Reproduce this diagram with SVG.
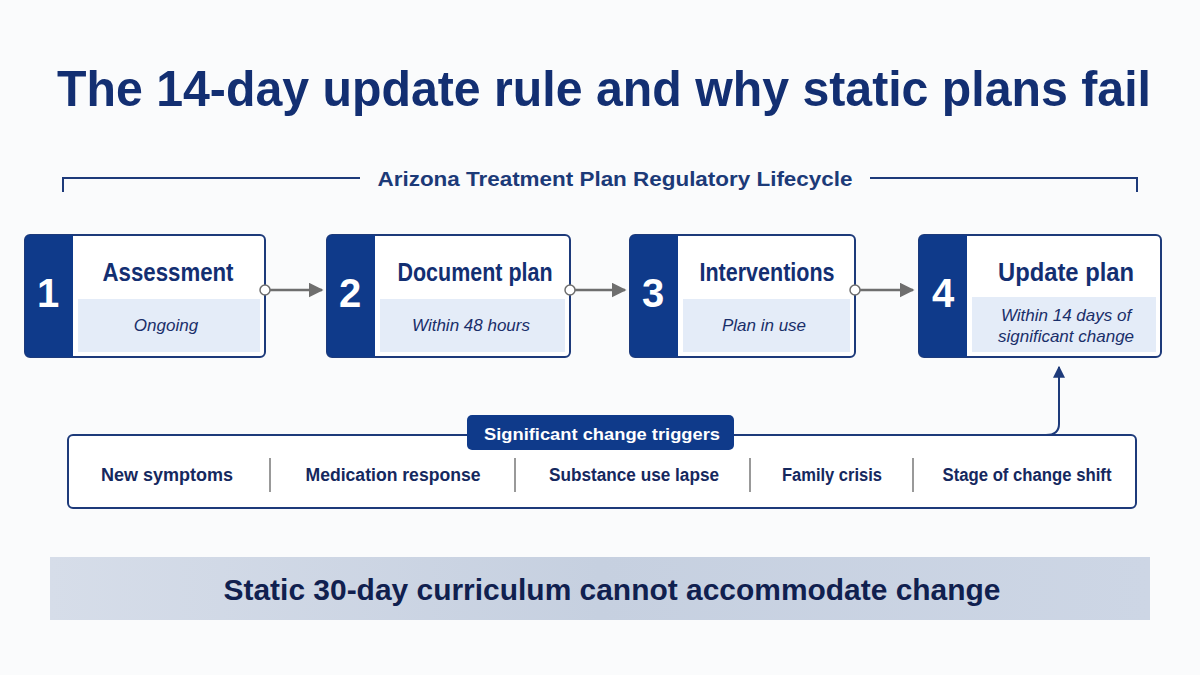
<svg xmlns="http://www.w3.org/2000/svg" width="1200" height="675" viewBox="0 0 1200 675">
<defs>
<style>
.title{font-family:"Liberation Sans",Arial,sans-serif;font-weight:bold;fill:#132f72}
.sec{font-family:"Liberation Sans",Arial,sans-serif;font-weight:bold;font-size:20px;fill:#1c3a78}
.box{fill:#ffffff;stroke:#1d3a7a;stroke-width:2}
.band{fill:#0f3a8a}
.low{fill:#e4ecf8}
.num{font-family:"Liberation Sans",Arial,sans-serif;font-weight:bold;font-size:40px;fill:#ffffff}
.ntitle{font-family:"Liberation Sans",Arial,sans-serif;font-weight:bold;font-size:25px;fill:#132f72}
.nsub{font-family:"Liberation Sans",Arial,sans-serif;font-style:italic;font-size:17px;fill:#1a2f6a}
.conn{stroke:#6e6e6e;stroke-width:2.5;fill:none}
.dot{fill:#ffffff;stroke:#6e6e6e;stroke-width:1.5}
.item{font-family:"Liberation Sans",Arial,sans-serif;font-weight:bold;font-size:18px;fill:#15285e}
.sep{stroke:#777;stroke-width:1.5}
.nav{stroke:#1d3a7a;stroke-width:2;fill:none}
</style>
<marker id="ag" viewBox="0 0 10 10" refX="9" refY="5" markerWidth="15" markerHeight="15" orient="auto" markerUnits="userSpaceOnUse"><path d="M0,0 L10,5 L0,10 z" fill="#6e6e6e"/></marker>
<marker id="an" viewBox="0 0 10 10" refX="9" refY="5" markerWidth="12" markerHeight="12" orient="auto" markerUnits="userSpaceOnUse"><path d="M0,0 L10,5 L0,10 z" fill="#1d3a7a"/></marker>
<linearGradient id="bg" x1="0" y1="0" x2="1" y2="0"><stop offset="0" stop-color="#d6dde9"/><stop offset="0.5" stop-color="#c6d0e0"/><stop offset="1" stop-color="#cdd6e5"/></linearGradient>
</defs>
<rect width="1200" height="675" fill="#fafbfc"/>
<text class="title" x="604" y="106" font-size="50" text-anchor="middle" textLength="1094" lengthAdjust="spacingAndGlyphs">The 14-day update rule and why static plans fail</text>

<g id="section">
<path class="nav" d="M63,192 L63,178 L360,178" stroke-width="1.5"/>
<path class="nav" d="M870,178 L1137,178 L1137,192" stroke-width="1.5"/>
<text class="sec" x="615" y="186" text-anchor="middle" textLength="475" lengthAdjust="spacingAndGlyphs">Arizona Treatment Plan Regulatory Lifecycle</text>
</g>

<g id="node1">
<rect class="box" x="25" y="235" width="240" height="122" rx="5"/>
<path class="band" d="M30,235 H73 V357 H30 A5,5 0 0 1 25,352 V240 A5,5 0 0 1 30,235 z"/>
<rect class="low" x="78" y="299" width="182" height="53"/>
<text class="num" x="48" y="307" text-anchor="middle">1</text>
<text class="ntitle" x="168" y="281" text-anchor="middle" textLength="131" lengthAdjust="spacingAndGlyphs">Assessment</text>
<text class="nsub" x="166" y="331" text-anchor="middle">Ongoing</text>
</g>
<g id="node2">
<rect class="box" x="327" y="235" width="243" height="122" rx="5"/>
<path class="band" d="M332,235 H375 V357 H332 A5,5 0 0 1 327,352 V240 A5,5 0 0 1 332,235 z"/>
<rect class="low" x="380" y="299" width="185" height="53"/>
<text class="num" x="350" y="307" text-anchor="middle">2</text>
<text class="ntitle" x="475" y="281" text-anchor="middle" textLength="155" lengthAdjust="spacingAndGlyphs">Document plan</text>
<text class="nsub" x="471" y="331" text-anchor="middle">Within 48 hours</text>
</g>
<g id="node3">
<rect class="box" x="630" y="235" width="225" height="122" rx="5"/>
<path class="band" d="M635,235 H678 V357 H635 A5,5 0 0 1 630,352 V240 A5,5 0 0 1 635,235 z"/>
<rect class="low" x="683" y="299" width="167" height="53"/>
<text class="num" x="653" y="307" text-anchor="middle">3</text>
<text class="ntitle" x="767" y="281" text-anchor="middle" textLength="135" lengthAdjust="spacingAndGlyphs">Interventions</text>
<text class="nsub" x="764" y="331" text-anchor="middle">Plan in use</text>
</g>
<g id="node4">
<rect class="box" x="919" y="235" width="242" height="122" rx="5"/>
<path class="band" d="M924,235 H967 V357 H924 A5,5 0 0 1 919,352 V240 A5,5 0 0 1 924,235 z"/>
<rect class="low" x="972" y="297" width="184" height="55"/>
<text class="num" x="943" y="307" text-anchor="middle">4</text>
<text class="ntitle" x="1066" y="281" text-anchor="middle" textLength="136" lengthAdjust="spacingAndGlyphs">Update plan</text>
<text class="nsub" x="1066" y="321" text-anchor="middle">Within 14 days of</text>
<text class="nsub" x="1066" y="342" text-anchor="middle">significant change</text>
</g>

<g id="triggers">
<rect class="box" x="68" y="435" width="1068" height="73" rx="5"/>
<rect x="467" y="415" width="267" height="35" rx="5" fill="#0f3a8a"/>
<text x="602" y="440" text-anchor="middle" font-family="Liberation Sans,Arial,sans-serif" font-weight="bold" font-size="17" fill="#ffffff" textLength="236" lengthAdjust="spacingAndGlyphs">Significant change triggers</text>
<text class="item" x="167" y="481" text-anchor="middle">New symptoms</text>
<line class="sep" x1="270" y1="458" x2="270" y2="492"/>
<text class="item" x="393" y="481" text-anchor="middle" textLength="175" lengthAdjust="spacingAndGlyphs">Medication response</text>
<line class="sep" x1="515" y1="458" x2="515" y2="492"/>
<text class="item" x="634" y="481" text-anchor="middle" textLength="170" lengthAdjust="spacingAndGlyphs">Substance use lapse</text>
<line class="sep" x1="750" y1="458" x2="750" y2="492"/>
<text class="item" x="832" y="481" text-anchor="middle" textLength="100" lengthAdjust="spacingAndGlyphs">Family crisis</text>
<line class="sep" x1="913" y1="458" x2="913" y2="492"/>
<text class="item" x="1027" y="481" text-anchor="middle" textLength="169" lengthAdjust="spacingAndGlyphs">Stage of change shift</text>
</g>

<g id="connectors">
<line class="conn" x1="270" y1="290" x2="322" y2="290" marker-end="url(#ag)"/>
<circle class="dot" cx="265" cy="290" r="5"/>
<line class="conn" x1="575" y1="290" x2="625" y2="290" marker-end="url(#ag)"/>
<circle class="dot" cx="570" cy="290" r="5"/>
<line class="conn" x1="860" y1="290" x2="913" y2="290" marker-end="url(#ag)"/>
<circle class="dot" cx="855" cy="290" r="5"/>
<path class="nav" d="M1046,435 Q1059,435 1059,424 L1059,367" marker-end="url(#an)"/>
</g>

<g id="banner">
<rect x="50" y="557" width="1100" height="63" fill="url(#bg)"/>
<text x="612" y="600" text-anchor="middle" font-family="Liberation Sans,Arial,sans-serif" font-weight="bold" font-size="29" fill="#10204f" textLength="777" lengthAdjust="spacingAndGlyphs">Static 30-day curriculum cannot accommodate change</text>
</g>
</svg>
